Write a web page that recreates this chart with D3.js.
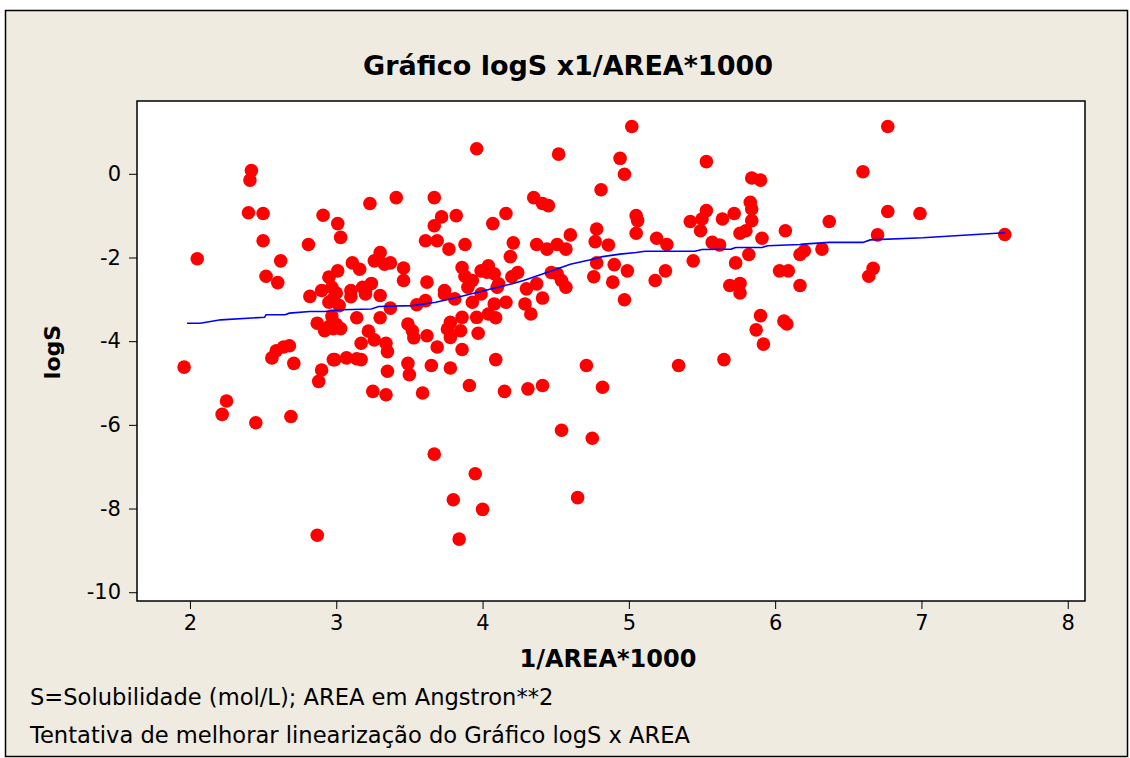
<!DOCTYPE html>
<html>
<head>
<meta charset="utf-8">
<script src="https://cdn.jsdelivr.net/npm/d3@7"></script>
<style>
  body { margin: 0; background: #ffffff; }
  svg text { font-family: "DejaVu Sans", Tahoma, sans-serif; fill: #000; }
</style>
</head>
<body>
<svg id="chart" width="1130" height="758"></svg>
<script>
// logS against 1/AREA*1000
var invArea = [1.96, 2.05, 2.22, 2.25, 2.40, 2.41, 2.42, 2.45, 2.50, 2.50, 2.52, 2.56, 2.59, 2.60, 2.62, 2.64, 2.68, 2.69, 2.71, 2.81,
  2.82, 2.87, 2.87, 2.90, 2.88, 2.91, 2.90, 2.95, 2.92, 2.95, 2.98, 2.98, 2.95, 2.97, 3.01, 3.03, 3.01, 3.00, 2.98, 3.02,
  2.97, 3.00, 3.03, 3.07, 3.14, 3.17, 2.99, 3.10, 3.11, 3.16, 3.10, 3.14, 3.18, 3.17, 3.20, 3.22, 3.23, 3.24, 3.25, 3.26,
  3.26, 3.30, 3.30, 3.30, 3.33, 3.34, 3.34, 3.35, 3.35, 3.37, 3.37, 3.41, 3.46, 3.46, 3.49, 3.49, 3.50, 3.52, 3.53, 3.20,
  3.55, 3.61, 3.61, 3.62, 3.62, 3.59, 3.65, 3.67, 3.67, 3.69, 3.69, 3.72, 3.67, 3.74, 3.74, 3.76, 3.77, 3.78, 3.78, 3.78,
  3.80, 3.81, 3.82, 3.84, 3.85, 3.86, 3.86, 3.86, 3.88, 3.88, 3.90, 3.91, 3.93, 3.93, 3.95, 3.96, 3.96, 3.97, 3.99, 4.00,
  3.99, 4.04, 4.07, 4.08, 4.08, 4.04, 4.09, 4.09, 4.11, 4.15, 4.16, 4.16, 4.19, 4.20, 4.21, 4.24, 4.29, 4.30, 4.31, 4.33,
  4.35, 4.37, 4.37, 4.41, 4.41, 4.41, 4.44, 4.45, 4.47, 4.51, 4.51, 4.52, 4.54, 4.54, 4.57, 4.57, 4.60, 4.65, 4.71, 4.75,
  4.03, 4.10, 4.76, 4.77, 4.78, 4.78, 4.81, 4.82, 4.86, 4.89, 4.90, 4.94, 4.97, 4.97, 4.99, 5.02, 5.05, 5.06, 5.05, 5.18,
  5.19, 5.25, 5.26, 5.34, 5.42, 5.44, 5.49, 5.50, 5.53, 5.53, 5.57, 5.62, 5.64, 5.65, 5.69, 5.72, 5.73, 5.76, 5.76, 5.76,
  5.80, 5.82, 5.83, 5.84, 5.84, 5.84, 5.87, 5.90, 5.90, 5.91, 5.92, 6.03, 6.07, 6.06, 6.08, 6.09, 6.17, 6.17, 6.20, 6.32,
  6.37, 6.60, 6.64, 6.67, 6.70, 6.77, 6.77, 6.99, 7.57];
var logS = [-4.62, -2.03, -5.75, -5.43, -0.93, -0.15, 0.08, -5.95, -0.95, -1.60, -2.45, -4.40, -4.23, -2.60, -2.08, -4.14, -4.11, -5.80, -4.53, -1.69,
  -2.93, -8.64, -3.57, -4.69, -4.96, -0.99, -2.79, -3.07, -3.75, -3.65, -3.70, -4.44, -2.47, -2.71, -1.19, -1.52, -2.32, -2.85, -2.98, -3.15,
  -3.40, -3.60, -3.70, -4.40, -4.42, -4.44, -4.44, -2.94, -2.13, -2.28, -2.79, -3.44, -2.71, -4.05, -2.87, -3.76, -0.71, -2.62, -5.20, -2.08,
  -3.97, -1.88, -2.91, -3.44, -2.16, -4.05, -5.28, -4.25, -4.72, -2.13, -3.21, -0.57, -2.25, -2.55, -3.59, -4.53, -4.80, -3.75, -3.92, -2.80,
  -3.13, -3.03, -1.60, -2.59, -3.87, -5.24, -4.58, -0.57, -1.24, -1.60, -4.14, -1.03, -6.70, -2.87, -2.79, -3.71, -1.80, -3.55, -3.91, -4.64,
  -7.79, -2.99, -1.00, -8.73, -3.75, -3.43, -4.20, -2.24, -1.69, -2.45, -2.71, -5.06, -2.55, -3.07, -7.17, 0.60, -3.43, -3.81, -2.32, -8.02,
  -2.87, -2.20, -1.19, -2.39, -3.11, -3.35, -3.44, -4.44, -2.63, -5.20, -0.95, -3.07, -1.98, -2.46, -1.65, -2.36, -3.11, -2.75, -5.14, -3.35,
  -0.57, -1.69, -2.63, -0.71, -2.97, -5.06, -1.80, -0.76, -2.36, -1.69, -2.39, 0.47, -2.55, -6.13, -1.80, -2.71, -1.46, -7.74, -4.58, -6.32,
  -2.35, -2.71, -2.46, -1.62, -1.32, -2.13, -0.38, -5.10, -1.70, -2.59, -2.17, 0.37, -0.01, -3.01, -2.32, 1.13, -1.00, -1.12, -1.42, -2.55,
  -1.54, -2.32, -1.69, -4.58, -1.14, -2.08, -1.36, -1.08, 0.29, -0.88, -1.64, -1.70, -1.08, -4.44, -2.67, -0.95, -2.13, -1.42, -2.62, -2.85,
  -1.36, -1.93, -0.68, -0.84, -0.10, -1.12, -3.73, -0.15, -3.39, -1.54, -4.07, -2.32, -1.36, -3.52, -3.59, -2.32, -1.93, -2.67, -1.84, -1.80,
  -1.14, 0.05, -2.45, -2.26, -1.46, 1.13, -0.90, -0.95, -1.45];

// lowess smoother (blue line)
var smoothX = [1.98, 2.07, 2.21, 2.51, 2.52, 2.65, 2.68, 2.82, 2.92, 3.04, 3.24, 3.29, 3.52, 3.68, 3.83, 4.05, 4.21, 4.28, 4.44, 4.60,
  4.73, 4.82, 4.94, 5.05, 5.11, 5.45, 5.50, 5.70, 5.73, 5.91, 5.95, 6.17, 6.19, 6.37, 6.60, 6.65, 7.01, 7.23, 7.57];
var smoothY = [-3.57, -3.57, -3.49, -3.43, -3.37, -3.37, -3.33, -3.29, -3.29, -3.25, -3.23, -3.17, -3.15, -3.07, -2.95, -2.76, -2.62, -2.55, -2.36, -2.16,
  -2.06, -1.98, -1.92, -1.88, -1.85, -1.85, -1.81, -1.80, -1.76, -1.76, -1.72, -1.69, -1.68, -1.64, -1.64, -1.58, -1.53, -1.48, -1.41];

var xTicks = [2, 3, 4, 5, 6, 7, 8];
var yTicks = [0, -2, -4, -6, -8, -10];

var title = "Gráfico logS x1/AREA*1000";
var xLabel = "1/AREA*1000";
var yLabel = "logS";
var notes = ["S=Solubilidade (mol/L); AREA em Angstron**2",
             "Tentativa de melhorar linearização do Gráfico logS x AREA"];

var svg = d3.select('#chart');

// outer panel
svg.append('rect')
    .attr('x', 5.5).attr('y', 10.5)
    .attr('width', 1122).attr('height', 746)
    .attr('fill', '#efebe1')
    .attr('stroke', '#000').attr('stroke-width', 1.5);

// plot box in pixels
var box = {left: 137, right: 1085, top: 101, bottom: 601};

var x = d3.scaleLinear().domain([1.638, 8.118]).range([box.left, box.right]);
var y = d3.scaleLinear().domain([1.74, -10.21]).range([box.top, box.bottom]);

// plot area
svg.append('rect')
    .attr('x', box.left).attr('y', box.top)
    .attr('width', box.right - box.left).attr('height', box.bottom - box.top)
    .attr('fill', '#fff');

// plain hyphen for negatives, like the original
var plain = function(d) { return String(d); };

var xAxis = svg.append('g')
    .attr('transform', 'translate(0,' + box.bottom + ')')
    .call(d3.axisBottom(x).tickValues(xTicks).tickSize(8).tickPadding(6).tickFormat(plain));
var yAxis = svg.append('g')
    .attr('transform', 'translate(' + box.left + ',0)')
    .call(d3.axisLeft(y).tickValues(yTicks).tickSize(8).tickPadding(8).tickFormat(plain));

[xAxis, yAxis].forEach(function(g) {
    g.select('.domain').remove();
    g.selectAll('line').attr('stroke', '#000').attr('stroke-width', 1);
    g.selectAll('text').style('font-size', '21px').attr('fill', '#000')
        .style('font-family', '"DejaVu Sans", Tahoma, sans-serif');
});

// points
svg.append('g').selectAll('circle')
    .data(invArea.map(function(d, i) { return [d, logS[i]]; }))
    .enter()
    .append('circle')
    .attr('cx', function(d) { return x(d[0]); })
    .attr('cy', function(d) { return y(d[1]); })
    .attr('r', 6.8)
    .attr('fill', '#ff0000');

// smoother
var line = d3.line()
    .x(function(d) { return x(d[0]); })
    .y(function(d) { return y(d[1]); });
svg.append('path')
    .datum(smoothX.map(function(d, i) { return [d, smoothY[i]]; }))
    .attr('d', line)
    .attr('fill', 'none')
    .attr('stroke', '#0000ff')
    .attr('stroke-width', 1.6);

// frame over the marks
svg.append('rect')
    .attr('x', box.left).attr('y', box.top)
    .attr('width', box.right - box.left).attr('height', box.bottom - box.top)
    .attr('fill', 'none')
    .attr('stroke', '#000').attr('stroke-width', 1.5);

svg.append('text')
    .attr('x', 568).attr('y', 75)
    .attr('text-anchor', 'middle')
    .style('font-size', '27px').style('font-weight', 'bold')
    .text(title);

svg.append('text')
    .attr('x', 608).attr('y', 667)
    .attr('text-anchor', 'middle')
    .style('font-size', '24px').style('font-weight', 'bold')
    .text(xLabel);

svg.append('text')
    .attr('transform', 'translate(60,352) rotate(-90)')
    .attr('text-anchor', 'middle')
    .style('font-size', '22px').style('font-weight', 'bold')
    .text(yLabel);

svg.selectAll('.note')
    .data(notes)
    .enter()
    .append('text')
    .attr('class', 'note')
    .attr('x', 30)
    .attr('y', function(d, i) { return 705 + i * 38; })
    .style('font-size', '22.6px')
    .text(function(d) { return d; });
</script>
</body>
</html>
